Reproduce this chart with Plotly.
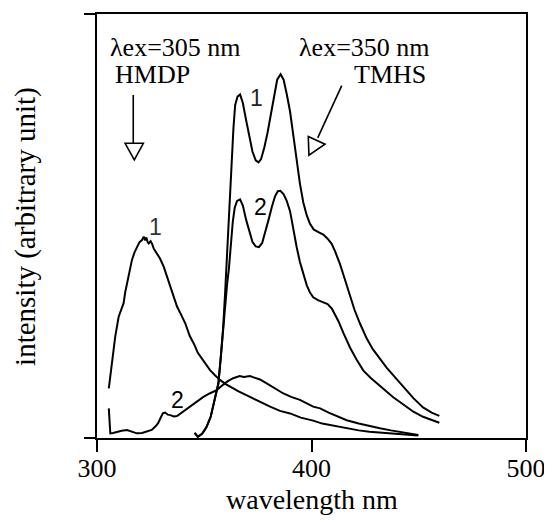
import plotly.graph_objects as go

# ---------------- data ----------------
tmhs1_wl = [345.5, 347, 349, 351, 353, 355, 356.6, 357.7, 358.8, 359.7, 360.5, 361.2, 362.0, 362.8,
            363.6, 364.4, 365.5, 366.7, 368, 369.5, 371, 372.5, 374, 375.3, 376.5, 378, 379.5, 381,
            382.5, 384, 385.6, 387, 388.5, 390, 391.5, 393, 394.6, 396.2, 397.8, 399.3, 401, 403,
            405.5, 407.5, 409.4, 411, 413.3, 415.5, 418, 420, 422.6, 425.7, 428.5, 431.9, 435,
            439.7, 443.5, 447.5, 452, 456, 459.6]
tmhs1_int = [1.2, 0.3, 1.0, 2.5, 5.0, 9.0, 12.9, 19, 26, 34, 42, 50, 58, 66,
             73, 78.5, 80.5, 81, 79, 75, 71, 67.5, 65.5, 65, 65.8, 68.5, 72, 76.5,
             81, 84.5, 85.8, 84.5, 81, 77, 71.5, 65.5, 60, 55.5, 52.5, 50.5, 49.2, 48.6,
             48, 47, 45.8, 44, 41, 37.5, 33.5, 30.3, 27, 23.5, 21, 18.8, 16.6,
             13.9, 11.6, 9.4, 7.2, 6.0, 5.2]

tmhs2_wl = [345.5, 347, 349, 351, 353, 355, 356.6, 357.7, 358.8, 359.8, 360.6, 361.5, 362.4, 363.3,
            364.2, 365.3, 366.7, 368, 369.5, 371, 372.5, 374, 375.5, 377, 378.5, 380, 381.5, 383,
            384.3, 385.5, 387, 388.4, 390, 391.5, 393.1, 394.6, 396.2, 397.8, 399.3, 400.8, 403,
            405.5, 407.5, 409.5, 411, 412.5, 415, 418, 421, 424.2, 427.5, 430.4, 434, 438.1,
            442, 447.5, 452, 456, 459.6]
tmhs2_int = [1.2, 0.3, 1.0, 2.5, 5.0, 9.0, 12.9, 19, 26, 32, 36, 40, 46, 51,
             54.3, 55.9, 56.3, 54.8, 51.5, 48.5, 46.2, 45.2, 45, 46, 48.5, 51.5, 54.5, 57,
             58.2, 58.3, 57.5, 56, 53.5, 49, 45, 41.5, 38.5, 36, 34.3, 33.2, 32.5,
             32, 31.6, 30.5, 29.2, 27.6, 24.6, 21.3, 18.5, 15.9, 14.2, 12.9, 11.2, 9.6,
             8.2, 6.2, 5.0, 4.2, 3.6]

hmdp1_wl = [305.5, 306.3, 307, 308.5, 310.1, 311.3, 312.4, 313.2, 314, 315.2, 316.3, 317.5, 318.6,
            319.8, 321, 321.8, 322.5, 323, 323.6, 324.1, 325, 325.6, 326.5, 327.6, 329.3, 331.1,
            332.6, 334.2, 335.8, 337.3, 339.2, 341.2, 343.2, 345.1, 347, 349.7, 352.7, 355, 357.3,
            360, 362, 366, 371.3, 376, 380.7, 385.3, 390, 395, 400.8, 405, 410, 416.4, 422, 427,
            431.9, 437, 442, 447.5, 449.8]
hmdp1_int = [11.7, 15, 18.4, 23.9, 28.6, 30.5, 31.8, 34.5, 36.5, 39.5, 42, 43.8, 45.1,
             46.2, 46.7, 47.5, 46.6, 47.3, 46.2, 45.9, 46.4, 45.9, 44.6, 43.6, 42.4, 40.4,
             38.2, 35.7, 33.2, 31, 29.1, 27, 24.1, 22.3, 20.1, 18.1, 16.0, 14.8, 13.7,
             12.7, 12.1, 11.0, 9.7, 8.5, 7.4, 6.4, 5.8, 4.8, 4.1, 3.4, 2.9, 2.3, 1.8, 1.5,
             1.3, 1.1, 0.9, 0.7, 0.6]

hmdp2_wl = [305.5, 305.9, 306.2, 307.5, 309.3, 311.5, 314, 316.5, 318.6, 321, 323.3, 325.5, 327.2,
            328.5, 329.5, 330.7, 331.8, 333, 334.2, 335.8, 337.3, 339.2, 341.2, 343.8, 346.6,
            349.6, 352.5, 355.8, 358.9, 361, 363.5, 366.5, 368.5, 371.3, 373, 376, 379.1, 383,
            386.9, 390.5, 394.6, 400.8, 404, 408, 412, 416.4, 422, 427, 431.9, 437, 442, 447.5,
            449.8]
hmdp2_int = [7.0, 4.0, 1.1, 1.2, 1.5, 1.7, 1.9, 1.5, 1.1, 1.2, 1.5, 1.9, 2.7,
             3.5, 4.6, 5.8, 6.0, 5.5, 5.4, 5.1, 5.2, 5.9, 6.6, 7.6, 8.6,
             9.7, 10.5, 11.3, 12.6, 13.4, 14.1, 14.6, 14.4, 14.6, 14.3, 13.8, 12.9, 11.8,
             10.5, 9.7, 9.0, 7.4, 7.0, 6.0, 5.1, 4.2, 3.4, 2.8, 2.3, 1.8, 1.4, 0.9,
             0.7]

x_ticks = [300, 400, 500]
x_tick_labels = ["300", "400", "500"]

SERIF = "Liberation Serif, Times New Roman, serif"
SANS = "Liberation Sans, Arial, sans-serif"

fig = go.Figure()
for wl, val in [(hmdp1_wl, hmdp1_int), (hmdp2_wl, hmdp2_int),
                (tmhs1_wl, tmhs1_int), (tmhs2_wl, tmhs2_int)]:
    fig.add_trace(go.Scatter(x=wl, y=val, mode="lines",
                             line=dict(color="black", width=2),
                             showlegend=False, hoverinfo="skip"))

# arrows (line + open triangle head)
arrow_line = dict(color="black", width=1.6)
shapes = [
    dict(type="line", xref="x", yref="y", x0=316.9, y0=80.9, x1=316.9, y1=69.5, line=arrow_line),
    dict(type="path", xref="x", yref="y",
         path="M 313.1 69.5 L 321.6 69.5 L 317.4 65.6 Z", line=arrow_line, fillcolor="white"),
    dict(type="line", xref="x", yref="y", x0=414.1, y0=83.1, x1=402.9, y1=70.8, line=arrow_line),
    dict(type="path", xref="x", yref="y",
         path="M 398.5 71.1 L 406.3 69.3 L 398.8 66.7 Z", line=arrow_line, fillcolor="white"),
]

ann_font = dict(family=SERIF, size=26, color="black")
annotations = [
    dict(x=305.1, y=92.2, xref="x", yref="y", text="λex=305 nm", showarrow=False,
         xanchor="left", yanchor="middle", font=ann_font),
    dict(x=307.4, y=85.8, xref="x", yref="y", text="HMDP", showarrow=False,
         xanchor="left", yanchor="middle", font=ann_font),
    dict(x=393.3, y=92.2, xref="x", yref="y", text="λex=350 nm", showarrow=False,
         xanchor="left", yanchor="middle", font=ann_font),
    dict(x=454.3, y=85.8, xref="x", yref="y", text="TMHS", showarrow=False,
         xanchor="right", yanchor="middle", font=ann_font),
    dict(x=374.4, y=80.1, xref="x", yref="y", text="1", showarrow=False,
         font=dict(family=SANS, size=23, color="#222")),
    dict(x=376.0, y=54.4, xref="x", yref="y", text="2", showarrow=False,
         font=dict(family=SANS, size=23, color="black")),
    dict(x=327.2, y=49.8, xref="x", yref="y", text="1", showarrow=False,
         font=dict(family=SANS, size=23, color="#333")),
    dict(x=337.4, y=9.0, xref="x", yref="y", text="2", showarrow=False,
         font=dict(family=SANS, size=23, color="black")),
    dict(x=-0.168, y=0.5, xref="paper", yref="paper", text="intensity (arbitrary unit)",
         showarrow=False, textangle=-90, xanchor="center", yanchor="middle",
         font=dict(family=SERIF, size=29, color="black")),
    dict(x=0.5, y=-0.184, xref="paper", yref="paper", text="wavelength nm",
         showarrow=False, xanchor="center", yanchor="bottom", borderpad=0,
         font=dict(family=SERIF, size=28, color="black")),
]

# the page body has an 8px default margin on every side; keep the figure
# small enough that the page needs no scrollbars
fig.update_layout(
    width=536, height=508,
    margin=dict(l=89, r=18, t=6, b=78, pad=0, autoexpand=False),
    paper_bgcolor="white", plot_bgcolor="white",
    shapes=shapes, annotations=annotations,
    xaxis=dict(range=[300, 500], tickvals=x_ticks, ticktext=x_tick_labels,
               ticks="outside", ticklen=12, tickwidth=1.5, tickcolor="black",
               showline=True, linecolor="black", linewidth=2, mirror=True,
               showgrid=False, zeroline=False, automargin=False,
               ticklabelstandoff=-6, ticklabeloverflow="allow",
               tickfont=dict(family=SERIF, size=26, color="black")),
    yaxis=dict(range=[0, 100], tickvals=[0, 100], ticktext=["", ""],
               ticks="outside", ticklen=11, tickwidth=1.5, tickcolor="black",
               showline=True, linecolor="black", linewidth=2, mirror=True,
               showgrid=False, zeroline=False, automargin=False),
)

fig.write_html("out.html")
